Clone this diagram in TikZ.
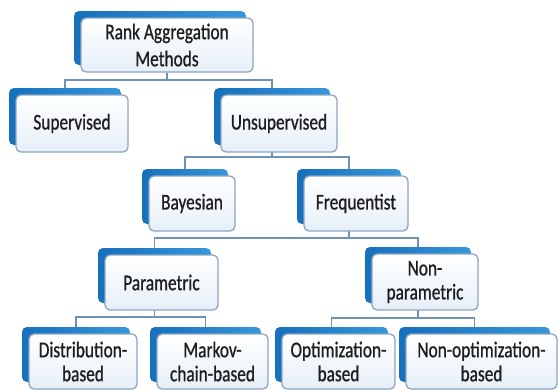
\documentclass[tikz,border=0pt]{standalone}
\usepackage{fontspec}
\setmainfont{Carlito}[FakeStretch=0.77,FakeBold=0.8]
\usetikzlibrary{backgrounds}
\definecolor{backblueL}{RGB}{22,112,188}
\definecolor{backblueR}{RGB}{55,150,220}
\definecolor{frontfill}{RGB}{230,239,248}
\definecolor{frontedge}{RGB}{140,166,192}
\definecolor{connline}{RGB}{110,145,182}
\definecolor{txt}{RGB}{30,30,30}
\tikzset{
 backbox/.style={rounded corners=5pt, left color=backblueL, right color=backblueR, draw=none, inner sep=0pt},
 frontbox/.style={rounded corners=5pt, draw=frontedge, line width=1.3pt, top color=white, bottom color=frontfill, inner sep=0pt, align=center, text=txt, font=\fontsize{22.5}{24}\selectfont},
 conn/.style={draw=connline, line width=1.2pt},
}
\newcommand\mybox[6]{%
 \node[backbox, minimum width={(#4-#2)*1pt}, minimum height={(#5-#3)*1pt}] (#1-b) at ({(#2+#4)/2-7},{-(#3+#5)/2+7}) {};
 \node[frontbox, minimum width={(#4-#2)*1pt}, minimum height={(#5-#3)*1pt}] (#1) at ({(#2+#4)/2},{-(#3+#5)/2}) {#6};
}
\begin{document}
\begin{tikzpicture}[x=1pt,y=1pt]
\useasboundingbox (0,0) rectangle (560,-389);
\mybox{root}{81}{18}{253}{72}{Rank Aggregation\\[3pt]Methods}
\mybox{sup}{16}{95}{128}{152}{Supervised}
\mybox{unsup}{221}{95}{337}{152}{Unsupervised}
\mybox{bayes}{149}{176}{235}{231}{Bayesian}
\mybox{freq}{304}{176}{408}{231}{Frequentist}
\mybox{param}{105}{255}{218}{310}{Parametric}
\mybox{nonparam}{372}{254}{478}{310}{Non-\\parametric}
\mybox{dist}{29}{334}{137}{389}{Distribution-\\based}
\mybox{markov}{157}{334}{268}{389}{Markov-\\chain-based}
\mybox{optim}{282}{334}{395}{389}{Optimization-\\based}
\mybox{nonopt}{406}{334}{557}{389}{Non-optimization-\\based}
\begin{pgfonlayer}{background}
\fill[white] (0,0) rectangle (560,-389);
\coordinate (bus0) at (0,-80);
\coordinate (bus1) at (0,-157);
\coordinate (bus2) at (0,-238);
\coordinate (bus3) at (0,-317);
\coordinate (bus4) at (0,-318);
\draw[conn] (root) -- (root |- bus0);
\draw[conn] (sup-b.north) |- (bus0 -| unsup-b.north) -- (unsup-b.north);
\draw[conn] (unsup-b) -- (unsup-b |- bus1);
\draw[conn] (bayes-b.north) |- (bus1 -| freq-b.north) -- (freq-b.north);
\draw[conn] (freq-b) -- (freq-b |- bus2);
\draw[conn] (param-b.north) |- (bus2 -| nonparam-b.north) -- (nonparam-b.north);
\draw[conn] (param-b) -- (param-b |- bus3);
\draw[conn] (dist-b.north) |- (bus3 -| markov-b.north) -- (markov-b.north);
\draw[conn] (nonparam-b) -- (nonparam-b |- bus4);
\draw[conn] (optim-b.north) |- (bus4 -| nonopt-b.north) -- (nonopt-b.north);
\end{pgfonlayer}
\end{tikzpicture}
\end{document}
